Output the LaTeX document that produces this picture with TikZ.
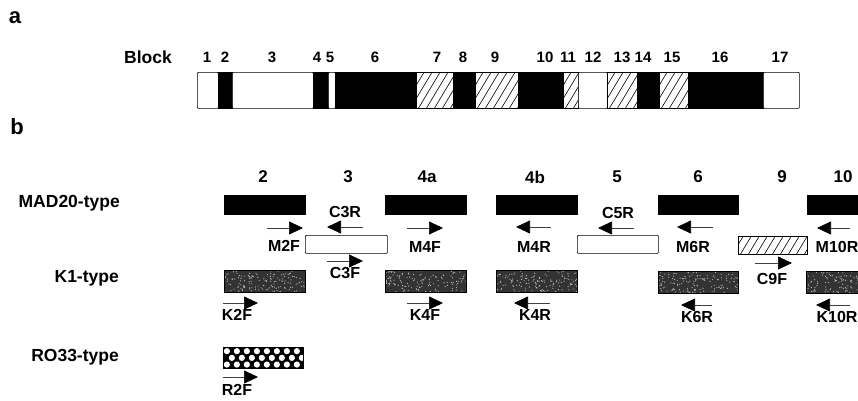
\documentclass[tikz,border=0pt]{standalone}
\usepackage{fontspec}
\setmainfont{Liberation Sans}
\usetikzlibrary{arrows.meta,calc}
\begin{document}
\begin{tikzpicture}[x=1pt,y=-1pt,
  lbl/.style={font=\fontsize{17.5}{17.5}\selectfont\bfseries, inner sep=0},
  num/.style={font=\fontsize{15}{15}\selectfont\bfseries, inner sep=0},
  hdr/.style={font=\fontsize{17}{17}\selectfont\bfseries, inner sep=0},
  prm/.style={font=\fontsize{16}{16}\selectfont\bfseries, inner sep=0},
  tag/.style={font=\fontsize{22}{22}\selectfont\bfseries, inner sep=0},
  bx/.style={draw=black, line width=0.7pt, inner sep=0, anchor=north west},
  wht/.style={bx, fill=white, rounded corners=0.8pt},
  blk/.style={bx, fill=black},
  hatch/.style={bx, fill=white, path picture={
     \foreach \k in {-70,-62,...,90}
       \draw[line width=0.6pt] ([xshift=\k pt]path picture bounding box.south west) -- ++(24pt,40pt);}},
  speck/.style={bx, fill=black!80, path picture={
     \pgfmathsetseed{#1}
     \foreach \i in {1,...,150}{
       \pgfmathsetmacro{\rx}{rnd*82}\pgfmathsetmacro{\ry}{rnd*23}
       \fill[white!75!black] ([xshift=\rx pt,yshift=\ry pt]path picture bounding box.south west) circle (0.6pt);}}},
  checker/.style={bx, fill=black, path picture={
     \foreach \c in {0,...,8}{
       \fill[white] ([xshift=\c*10pt+3.5pt,yshift=3.8pt]path picture bounding box.south west) circle (3.1pt);
       \fill[white] ([xshift=\c*10pt+8.5pt,yshift=10.5pt]path picture bounding box.south west) circle (3.1pt);
       \fill[white] ([xshift=\c*10pt+3.5pt,yshift=17.2pt]path picture bounding box.south west) circle (3.1pt);}}},
  prim/.style={line width=0.7pt, draw=black!75, -{Triangle[length=14pt,width=13pt,color=black,fill=black]}}
]
\useasboundingbox (0,0) rectangle (858,400);

% ---------- part a ----------
\node[tag] (ta) at (15,18) {a};
\node[lbl] (block) at (148,57) {Block};
\newcommand\bseg[4]{\node[#2, minimum width={(#4-#3)*1pt}, minimum height=36pt] (#1) at (#3,72) {};}
\bseg{b1}{wht}{197}{218}
\bseg{b2}{blk}{218}{232}
\bseg{b3}{wht}{232}{313}
\bseg{b4}{blk}{313}{328}
\bseg{b5}{wht}{328}{335}
\bseg{b6}{blk}{335}{416}
\bseg{b7}{hatch}{416}{453}
\bseg{b8}{blk}{453}{475}
\bseg{b9}{hatch}{475}{518}
\bseg{b10}{blk}{518}{563}
\bseg{b11}{hatch}{563}{578}
\bseg{b12}{wht}{578}{607}
\bseg{b13}{hatch}{607}{637}
\bseg{b14}{blk}{637}{659}
\bseg{b15}{hatch}{659}{688}
\bseg{b16}{blk}{688}{763}
\bseg{b17}{wht}{763}{799}
\foreach \t/\x in {1/207,2/225,3/272,4/317,5/330,6/375,7/437,8/463,9/495,10/545,11/568,12/593,13/622,14/643,15/672,16/720,17/780}
  \node[num] (n\t) at (\x,57) {\t};

% ---------- part b ----------
\node[tag] (tb) at (17,127) {b};
\foreach \t/\x in {2/263,3/348,4a/427,4b/535,5/617,6/698,9/782,10/843}
  \node[hdr] (h\t) at (\x,177) {\t};

\node[lbl, anchor=east] (mad) at (120,203) {MAD20-type};
\node[lbl, anchor=east] (k1) at (119,278) {K1-type};
\node[lbl, anchor=east] (ro) at (119,357) {RO33-type};

\newcommand\rbox[6]{\node[#2, minimum width={(#4-#3)*1pt}, minimum height={(#6-#5)*1pt}] (#1) at (#3,#5) {};}
% MAD20 row
\rbox{m2}{blk}{224}{305}{195}{214}
\rbox{m4a}{blk}{385}{466}{195}{214}
\rbox{m4b}{blk}{496}{577}{195}{214}
\rbox{m6}{blk}{658}{738}{195}{214}
\rbox{m10}{blk}{807}{858}{195}{214}
% intermediate boxes
\rbox{c3}{wht}{305}{387}{235}{253}
\rbox{c5}{wht}{577}{658}{235}{253}
\rbox{c9}{hatch}{738}{807}{236}{254}
% K1 row
\rbox{k2}{speck=11}{224}{305}{270}{292}
\rbox{k4a}{speck=23}{385}{466}{270}{292}
\rbox{k4b}{speck=37}{496}{577}{270}{292}
\rbox{k6}{speck=41}{658}{738}{271}{293}
\rbox{k10}{speck=53}{806}{858}{271}{293}
% RO33
\rbox{r2}{checker}{223}{303}{347}{368}

% primers
\coordinate (M2Fa) at (267,228); \coordinate (M2Fb) at (303,228);
\draw[prim] (M2Fa) -- (M2Fb); \node[prm] (M2F) at (284,246) {M2F};
\node[prm] (C3R) at (345,212) {C3R};
\coordinate (C3Ra) at (363,227); \coordinate (C3Rb) at (327,227);
\draw[prim] (C3Ra) -- (C3Rb);
\coordinate (C3Fa) at (327,261); \coordinate (C3Fb) at (363,261);
\draw[prim] (C3Fa) -- (C3Fb); \node[prm] (C3F) at (345,273) {C3F};
\coordinate (M4Fa) at (407,228); \coordinate (M4Fb) at (443,228);
\draw[prim] (M4Fa) -- (M4Fb); \node[prm] (M4F) at (425,247) {M4F};
\coordinate (M4Ra) at (551,227); \coordinate (M4Rb) at (516,227);
\draw[prim] (M4Ra) -- (M4Rb); \node[prm] (M4R) at (534,247) {M4R};
\node[prm] (C5R) at (618,213) {C5R};
\coordinate (C5Ra) at (634,228); \coordinate (C5Rb) at (598,228);
\draw[prim] (C5Ra) -- (C5Rb);
\coordinate (M6Ra) at (713,227); \coordinate (M6Rb) at (677,227);
\draw[prim] (M6Ra) -- (M6Rb); \node[prm] (M6R) at (693,247) {M6R};
\coordinate (C9Fa) at (755,263); \coordinate (C9Fb) at (792,263);
\draw[prim] (C9Fa) -- (C9Fb); \node[prm] (C9F) at (772,279) {C9F};
\coordinate (M10Ra) at (850,228); \coordinate (M10Rb) at (817,228);
\draw[prim] (M10Ra) -- (M10Rb); \node[prm] (M10R) at (837,247) {M10R};
\coordinate (K2Fa) at (223,303); \coordinate (K2Fb) at (258,303);
\draw[prim] (K2Fa) -- (K2Fb); \node[prm] (K2F) at (237,315) {K2F};
\coordinate (K4Fa) at (407,303); \coordinate (K4Fb) at (443,303);
\draw[prim] (K4Fa) -- (K4Fb); \node[prm] (K4F) at (425,315) {K4F};
\coordinate (K4Ra) at (550,303); \coordinate (K4Rb) at (514,303);
\draw[prim] (K4Ra) -- (K4Rb); \node[prm] (K4R) at (535,315) {K4R};
\coordinate (K6Ra) at (712,305); \coordinate (K6Rb) at (681,305);
\draw[prim] (K6Ra) -- (K6Rb); \node[prm] (K6R) at (697,317) {K6R};
\coordinate (K10Ra) at (850,305); \coordinate (K10Rb) at (816,305);
\draw[prim] (K10Ra) -- (K10Rb); \node[prm] (K10R) at (837,317) {K10R};
\coordinate (R2Fa) at (223,377); \coordinate (R2Fb) at (258,377);
\draw[prim] (R2Fa) -- (R2Fb); \node[prm] (R2F) at (237,390) {R2F};
\end{tikzpicture}
\end{document}
